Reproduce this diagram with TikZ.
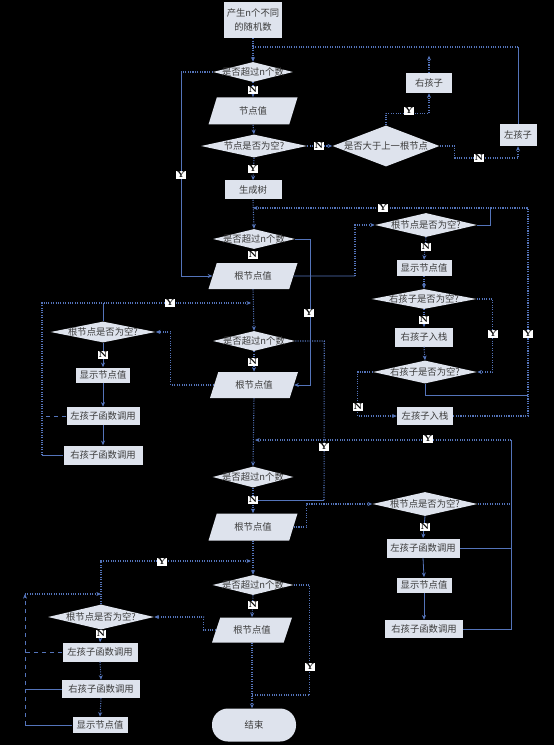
\documentclass[tikz,border=0pt]{standalone}
\usepackage{fontspec}
\newfontfamily\cjk{Noto Sans CJK SC}
\usetikzlibrary{shapes.geometric,arrows.meta}
\definecolor{fillc}{RGB}{222,227,237}
\definecolor{linec}{RGB}{84,116,186}
\definecolor{txtc}{RGB}{60,60,60}
\newcommand\zw[1]{\makebox[0pt]{#1}}
\tikzset{
 base/.style={font=\cjk\fontsize{7}{10}\selectfont, text=txtc, fill=fillc, inner sep=0pt},
 sz/.style 2 args={minimum width=#1*0.75pt, minimum height=#2*0.75pt},
 procbox/.style={base, rectangle},
 decide/.style={base, diamond, aspect=5},
 iobox/.style={base, trapezium, trapezium left angle=46, trapezium right angle=134, trapezium stretches body=true},
 termbox/.style={base, rectangle, rounded corners=12pt},
 tag/.style={fill=white, text=black, inner sep=0.8pt, font=\fontsize{6.5}{7}\selectfont\bfseries},
 sl/.style={draw=linec, line width=0.6pt},
 dl/.style={draw=linec, line width=0.8pt, densely dotted},
 dsh/.style={draw=linec, line width=0.6pt, dashed},
 arr/.style={-{Stealth[length=3.5pt,width=3pt]}},
}
\begin{document}
\begin{tikzpicture}[x=0.75pt,y=-0.75pt]
\fill[black] (0,0) rectangle (554,745);
\useasboundingbox (0,0) rectangle (554,745);

% ---- nodes
\node[procbox,sz={58}{36},align=center] (start) at (253,20) {产生n个不同\\的随机数};
\node[decide,sz={80}{20}] (d1) at (253,72) {\zw{是否超过n个数}};
\node[iobox,sz={89}{27}] (p1) at (253,111) {\zw{节点值}};
\node[decide,sz={106}{23}] (d2) at (254,146) {\zw{节点是否为空?}};
\node[procbox,sz={57}{19}] (tree) at (253,190) {生成树};
\node[decide,sz={107}{41}] (d3) at (386,146) {\zw{是否大于上一根节点}};
\node[procbox,sz={46}{20}] (rc) at (429,83) {右孩子};
\node[procbox,sz={37}{22}] (lc) at (518,135) {左孩子};

\node[decide,sz={82}{20}] (d4) at (254,239) {\zw{是否超过n个数}};
\node[iobox,sz={89}{26}] (p2) at (253,276) {\zw{根节点值}};
\node[decide,sz={102}{24}] (d6) at (426,225) {\zw{根节点是否为空?}};
\node[procbox,sz={55}{16}] (show1) at (424,268) {显示节点值};
\node[decide,sz={105}{20}] (d7) at (424,299) {\zw{右孩子是否为空?}};
\node[procbox,sz={58}{19}] (push1) at (424,337) {右孩子入栈};
\node[decide,sz={104}{23}] (d8) at (425,372) {\zw{右孩子是否为空?}};
\node[procbox,sz={56}{18}] (push2) at (425,416) {左孩子入栈};

\node[decide,sz={82}{20}] (d5) at (254,341) {\zw{是否超过n个数}};
\node[iobox,sz={88}{26}] (p3) at (254,385) {\zw{根节点值}};
\node[decide,sz={105}{21}] (d9) at (103,332) {\zw{根节点是否为空?}};
\node[procbox,sz={54}{15}] (show2) at (103,375) {显示节点值};
\node[procbox,sz={73}{18}] (lcall1) at (103,416) {左孩子函数调用};
\node[procbox,sz={79}{19}] (rcall1) at (103,455) {右孩子函数调用};

\node[decide,sz={81}{21}] (d10) at (253,477) {\zw{是否超过n个数}};
\node[iobox,sz={89}{27}] (p4) at (253,527) {\zw{根节点值}};
\node[decide,sz={105}{24}] (d11) at (425,504) {\zw{根节点是否为空?}};
\node[procbox,sz={73}{19}] (lcall2) at (423,548) {左孩子函数调用};
\node[procbox,sz={55}{15}] (show3) at (424,585) {显示节点值};
\node[procbox,sz={78}{18}] (rcall2) at (424,629) {右孩子函数调用};

\node[decide,sz={81}{20}] (d13) at (253,585) {\zw{是否超过n个数}};
\node[iobox,sz={80}{25}] (p5) at (252,630) {\zw{根节点值}};
\node[termbox,sz={84}{33}] (end) at (254,725) {结束};
\node[decide,sz={106}{25}] (d12) at (101,617) {\zw{根节点是否为空?}};
\node[procbox,sz={75}{19}] (lcall3) at (100,652) {左孩子函数调用};
\node[procbox,sz={78}{18}] (rcall3) at (101,689) {右孩子函数调用};
\node[procbox,sz={55}{16}] (show4) at (100,725) {显示节点值};

% ---- section 1
\coordinate (j1) at (253,47);
\draw[dl,arr] (start.south) -- (d1.north);
\draw[sl] (lc.north) -- (lc.north |- j1);
\draw[dl] (lc.north |- j1) -- (j1);
\draw[dl,arr] (d1.south) -- (p1.north);
\draw[dl,arr] (p1.south) -- (d2.north);
\draw[dl,arr] (d2.south) -- (tree.north);
\draw[dl,arr] (d2.east) -- (d3.west);
\draw[dl,arr] (d3.north) -- ++(0,-12) -| (rc.south);
\draw[dl,arr] (rc.north) -- ++(0,-17);
\draw[dl,arr] (d3.east) -- ++(15,0) -- ++(0,12) -| (lc.south);
\coordinate (j2) at (181,72);
\draw[dl] (d1.west) -- (j2);
\draw[sl,arr] (j2) |- (p2.west);

% ---- section 2
\coordinate (j3) at (253,208);
\coordinate (k1) at (528,208);
\draw[dl,arr] (tree.south) -- (d4.north);
\draw[sl] (d6.east) -| (490,208);
\draw[dl,arr] (push2.east) -| (k1) -- (j3);
\draw[sl] (d8.south) |- (528,395);
\draw[sl,arr] (d4.east) -- ++(15,0) |- (p3.east);
\coordinate (j4) at (355,276);
\draw[sl] (p2.east) -- (j4);
\draw[dl,arr] (j4) |- (d6.west);
\draw[dl,arr] (d6.south) -- (show1.north);
\draw[dl,arr] (show1.south) -- (d7.north);
\draw[dl,arr] (d7.south) -- (push1.north);
\draw[dl,arr] (push1.south) -- (d8.north);
\draw[dl,arr] (d7.east) -- ++(16,0) |- (d8.east);
\draw[dl,arr] (d8.west) -- ++(-15,0) |- (push2.west);

% ---- section 3
\draw[dl,arr] (p2.south) -- (d5.north);
\coordinate (L1) at (42,303);
\draw[sl] (rcall1.west) -- (rcall1.west -| L1);
\draw[dl,arr] (rcall1.west -| L1) -- (L1) -- (251,303);
\draw[dsh] (lcall1.west) -- (lcall1.west -| L1);
\draw[sl] (d9.north) -- (d9.north |- L1);
\draw[sl,arr] (d9.south) -- (show2.north);
\draw[sl,arr] (show2.south) -- (lcall1.north);
\draw[sl,arr] (lcall1.south) -- (rcall1.north);
\draw[dl,arr] (p3.west) -- ++(-43,0) |- (d9.east);
\draw[dl,arr] (d5.south) -- (p3.north);
\coordinate (j5) at (324,500);
\draw[dl] (d5.east) -- ++(29,0) -- (j5);
\draw[sl] (j5) -- (253,500);

% ---- section 4
\draw[dl,arr] (p3.south) -- (d10.north);
\coordinate (k2) at (511,440);
\draw[sl] (rcall2.east) -| (k2);
\draw[dl,arr] (k2) -- (255,440);
\draw[sl] (lcall2.east) -- (lcall2.east -| k2);
\draw[dl] (d11.east) -- (d11.east -| k2);
\draw[dl,arr] (d10.south) -- (p4.north);
\draw[dl,arr] (p4.east) -- ++(13,0) |- (d11.west);
\draw[sl,arr] (d11.south) -- (lcall2.north);
\draw[sl,arr] (lcall2.south) -- (show3.north);
\draw[sl,arr] (show3.south) -- (rcall2.north);

% ---- section 5
\draw[dl,arr] (p4.south) -- (d13.north);
\coordinate (j6) at (101,561);
\draw[dl,arr] (d12.north) -- (j6) -- (251,561);
\coordinate (L2) at (25,594);
\draw[sl] (show4.west) -- (show4.west -| L2);
\draw[dsh,arr] (show4.west -| L2) -- (L2);
\draw[dl,arr] (L2) -- (L2 -| d12.north);
\draw[sl] (rcall3.west) -- (rcall3.west -| L2);
\draw[dsh] (lcall3.west) -- (lcall3.west -| L2);
\draw[dl,arr] (d12.south) -- (lcall3.north);
\draw[dl,arr] (lcall3.south) -- (rcall3.north);
\draw[dl,arr] (rcall3.south) -- (show4.north);
\draw[dl,arr] (d13.south) -- (p5.north);
\draw[dl,arr] (p5.west) -- ++(-12,0) |- (d12.east);
\draw[dl] (d13.east) -- ++(16,0) |- (252,695);
\draw[dl,arr] (p5.south) -- (p5.south |- end.north);

% ---- Y / N tags
\node[tag] (tN1) at (253,90) {N};
\node[tag] (tY1) at (253,169) {Y};
\node[tag] (tN2) at (319,146) {N};
\node[tag] (tY2) at (409,111) {Y};
\node[tag] (tN3) at (479,158) {N};
\node[tag] (tY3) at (181,175) {Y};
\node[tag] (tN4) at (253,255) {N};
\node[tag] (tY4) at (309,313) {Y};
\node[tag] (tY5) at (383,208) {Y};
\node[tag] (tN5) at (426,247) {N};
\node[tag] (tN6) at (424,320) {N};
\node[tag] (tY6) at (493,334) {Y};
\node[tag] (tY7) at (528,334) {Y};
\node[tag] (tN7) at (358,407) {N};
\node[tag] (tN8) at (253,362) {N};
\node[tag] (tY8) at (324,447) {Y};
\node[tag] (tY9) at (170,303) {Y};
\node[tag] (tN9) at (103,355) {N};
\node[tag] (tN10) at (253,500) {N};
\node[tag] (tY10) at (428,439) {Y};
\node[tag] (tN11) at (425,527) {N};
\node[tag] (tY11) at (162,562) {Y};
\node[tag] (tN12) at (253,605) {N};
\node[tag] (tY12) at (310,667) {Y};
\node[tag] (tN13) at (101,634) {N};
\end{tikzpicture}
\end{document}
